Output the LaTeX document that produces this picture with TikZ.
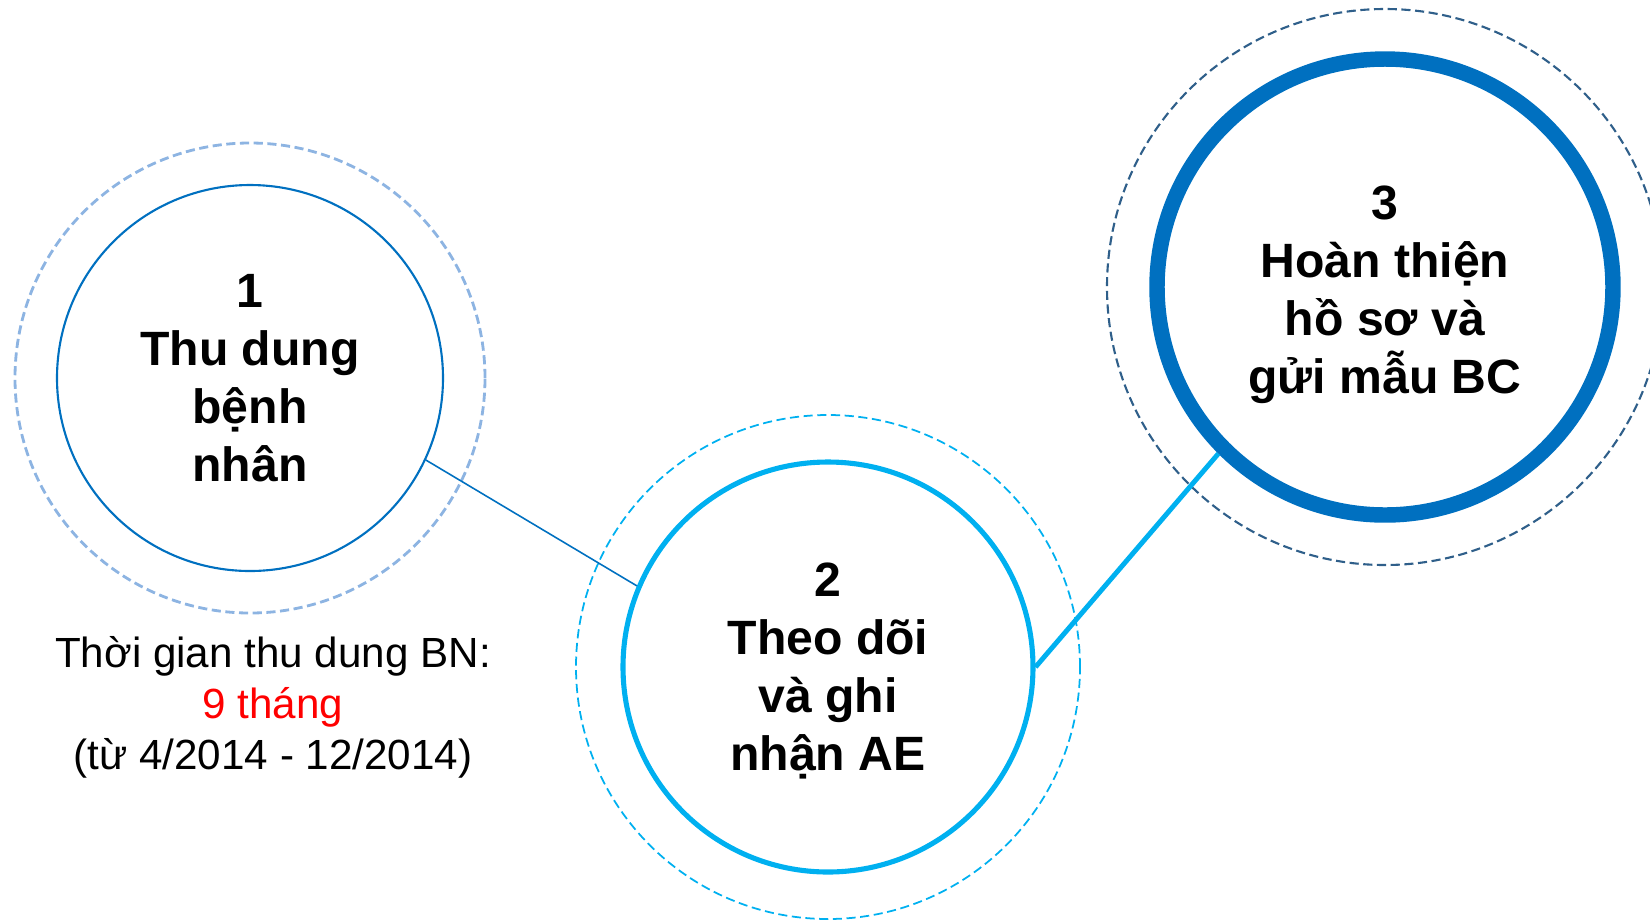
\documentclass[tikz,border=0pt]{standalone}
\usepackage{fontspec}
\setmainfont{Liberation Sans}
\usetikzlibrary{positioning}

\definecolor{darkblue}{HTML}{0070C0}
\definecolor{skyblue}{HTML}{00B0F0}
\definecolor{paleblue}{HTML}{8DB4E2}
\definecolor{slateblue}{HTML}{2F5F8A}

\begin{document}
\begin{tikzpicture}[
    stage/.style={circle, draw, inner sep=0pt, align=center, font=\fontsize{13.7}{16.5}\selectfont\bfseries},
    halo/.style={dash pattern=on 2.6pt off 1.3pt, line width=0.6pt},
    note/.style={align=center, font=\fontsize{12}{14.5}\selectfont}
  ]

  \clip (0,0) rectangle (16.5,-9.2);

  \node[stage, draw=darkblue, line width=0.6pt, minimum size=3.86cm] (s1) at (2.50,-3.78) {1\\Thu dung\\bệnh\\nhân};
  \node[stage, draw=skyblue, line width=1.45pt, minimum size=4.10cm] (s2) at (8.28,-6.67) {\rule{0pt}{0.41cm}2\\Theo dõi\\và ghi\\nhận AE};
  \node[stage, draw=darkblue, line width=4.4pt, minimum size=4.56cm] (s3) at (13.85,-2.87) {\rule{0pt}{0.49cm}3\\Hoàn thiện\\hồ sơ và\\gửi mẫu BC};

  \draw[halo, paleblue, line width=0.8pt] (s1.center) circle (2.35);
  \draw[halo, skyblue, line width=0.5pt] (s2.center) circle (2.52);
  \draw[halo, slateblue] (s3.center) circle (2.78);

  \draw[darkblue, line width=0.45pt] (s1.-25) -- (s2.157);
  \draw[skyblue, line width=1.4pt] (s2.0) -- (s3.225);

  \node[note] (period) at (2.73,-7.07) {Thời gian thu dung BN:\\\textcolor{red}{9 tháng}\\(từ 4/2014 - 12/2014)};

\end{tikzpicture}
\end{document}
